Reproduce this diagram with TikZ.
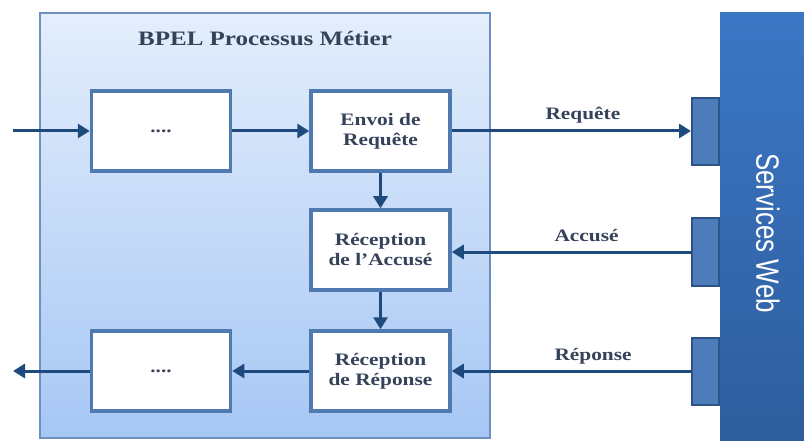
\documentclass[tikz,border=0pt]{standalone}
\usepackage{fontspec}
\setmainfont{Liberation Serif}[FakeStretch=1.22]
\setsansfont{Liberation Sans}
\usepackage{graphicx}
\usetikzlibrary{arrows.meta}

\definecolor{cadrehaut}{HTML}{E4EEFC}
\definecolor{cadrebas}{HTML}{A6C7F4}
\definecolor{bordcadre}{HTML}{6E90BE}
\definecolor{bordbloc}{HTML}{4E7AB0}
\definecolor{trait}{HTML}{1F4A7D}
\definecolor{texte}{HTML}{35425A}
\definecolor{fondport}{HTML}{4D7CBA}
\definecolor{bordport}{HTML}{2D5384}
\definecolor{webhaut}{HTML}{3B77C5}
\definecolor{webbas}{HTML}{2E5D9D}

\begin{document}
\begin{tikzpicture}[x=1pt,y=-1pt,
    bloc/.style={draw=bordbloc, line width=3.5pt, fill=white, minimum width=139pt, minimum height=80pt,
        align=center, text=texte, font=\fontsize{17.5}{20}\selectfont\bfseries},
    port/.style={draw=bordport, line width=2pt, fill=fondport, minimum width=27pt, minimum height=67pt},
    fleche/.style={draw=trait, line width=3pt, -{Triangle[length=12pt,width=14pt]}},
    msg/.style={text=texte, font=\fontsize{17.5}{20}\selectfont\bfseries, anchor=base west}]
        \useasboundingbox (0,0) rectangle (804,441);

        % Draw the BPEL process frame
        \draw[draw=bordcadre, line width=2pt, top color=cadrehaut, bottom color=cadrebas] (40,13) rectangle (490,438);
        \node[anchor=base, text=texte, font=\fontsize{20.5}{24}\selectfont\bfseries] (titre) at (265,46) {BPEL Processus Métier};

        % Draw the Web services side
        \shade[top color=webhaut, bottom color=webbas] (720,13) rectangle (804,441);
        \node[rotate=-90, text=white, font=\sffamily\fontsize{26}{30}\selectfont] (web) at (768,233) {\scalebox{1}[1.24]{Services Web}};

        % Define the ports
        \node[port] (p1) at (705.5,132) {};
        \node[port] (p2) at (705.5,252) {};
        \node[port] (p3) at (705.5,371) {};

        % Define the activities
        \node[bloc] (deb) at (161,131) {....};
        \node[bloc] (envoi) at (380.5,131) {Envoi de\\Requête};
        \node[bloc] (accuse) at (380.5,250) {Réception\\de l’Accusé};
        \node[bloc] (reponse) at (380.5,371) {Réception\\de Réponse};
        \node[bloc] (fin) at (161,371) {....};

        % Draw the flow
        \coordinate (entree) at (13,131);
        \coordinate (sortie) at (13,371);
        \draw[fleche] (entree) -- (deb);
        \draw[fleche] (deb) -- (envoi);
        \draw[fleche] (envoi) -- (accuse);
        \draw[fleche] (accuse) -- (reponse);
        \draw[fleche] (reponse) -- (fin);
        \draw[fleche] (fin) -- (sortie);

        % Draw the messages
        \draw[fleche] (envoi.east) -- (envoi.east -| p1.west);
        \draw[fleche] (p2.west) -- (p2.west -| accuse.east);
        \draw[fleche] (p3.west) -- (p3.west -| reponse.east);
        \node[msg] (lreq) at (542,120) {Requête};
        \node[msg] (lacc) at (551,241) {Accusé};
        \node[msg] (lrep) at (551,360) {Réponse};

    \end{tikzpicture}
\end{document}
